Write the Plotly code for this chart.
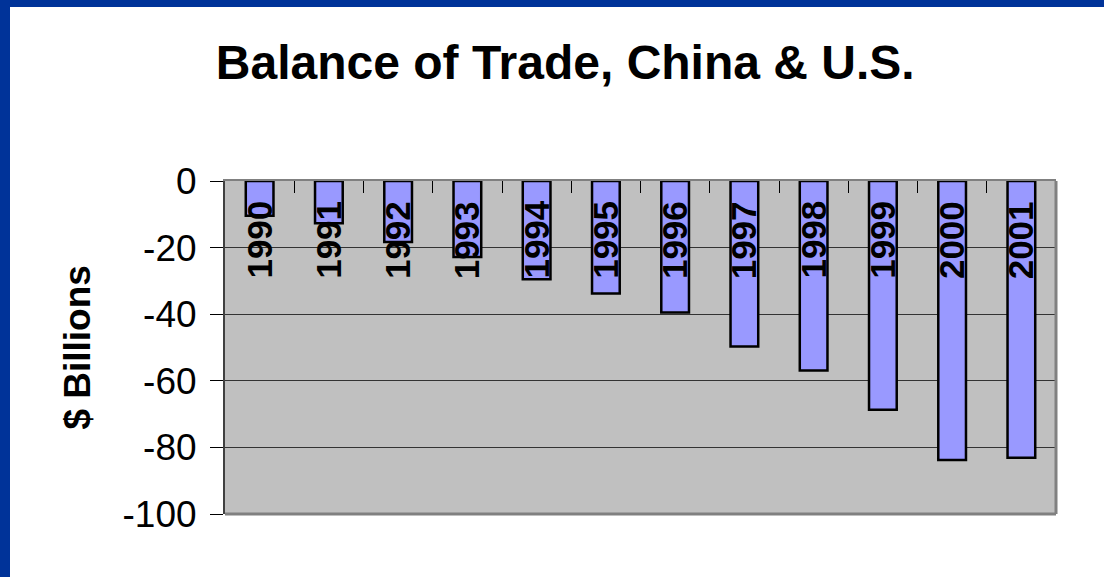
import plotly.graph_objects as go

years = ["1990", "1991", "1992", "1993", "1994", "1995",
         "1996", "1997", "1998", "1999", "2000", "2001"]
balance = [-10.4, -12.7, -18.3, -22.8, -29.5, -33.8,
           -39.5, -49.7, -56.9, -68.7, -83.8, -83.1]
y_ticks = [0, -20, -40, -60, -80, -100]
y_labels = ["0", "-20", "-40", "-60", "-80", "-100"]

BLUE = "#003399"
BAR = "#9999FF"
FONT = "Liberation Sans, Arial, sans-serif"

fig = go.Figure()
fig.add_trace(go.Bar(
    x=years, y=balance,
    marker=dict(color=BAR, line=dict(color="black", width=2.5)),
    hoverinfo="x+y",
))

# year labels sit at a fixed height inside the top of each bar
# (numeric-looking strings would be read as category indices, so pass the index)
for i, yr in enumerate(years):
    fig.add_annotation(
        x=i, y=-17.7, xref="x", yref="y", text=f"<b>{yr}</b>",
        textangle=-90, showarrow=False, xanchor="center", yanchor="middle",
        font=dict(family=FONT, size=35, color="black"),
    )

fig.add_annotation(
    x=-0.178, y=0.5, xref="paper", yref="paper", text="<b>$ Billions</b>",
    textangle=-90, showarrow=False, xanchor="center", yanchor="middle",
    font=dict(family=FONT, size=37, color="black"),
)

# blue slide frame (top and left) plus the grey shadow edge of the plot area
fig.add_shape(type="rect", xref="paper", yref="paper",
              x0=-225 / 831, x1=1104 / 831 - 225 / 831 + 0.01,
              y0=1 + 174 / 333, y1=1 + 190 / 333,
              fillcolor=BLUE, line_width=0, layer="above")
fig.add_shape(type="rect", xref="paper", yref="paper",
              x0=-225 / 831 - 0.01, x1=-215 / 831,
              y0=-70 / 333, y1=1 + 190 / 333,
              fillcolor=BLUE, line_width=0, layer="above")
fig.add_shape(type="line", xref="paper", yref="paper",
              x0=0, x1=1, y0=0, y1=0, line=dict(color="#808080", width=3))
fig.add_shape(type="line", xref="paper", yref="paper",
              x0=1, x1=1, y0=0, y1=1, line=dict(color="#808080", width=3))

fig.update_layout(
    width=1104, height=577,
    margin=dict(l=225, r=48, t=181, b=63),
    paper_bgcolor="white", plot_bgcolor="#C0C0C0",
    showlegend=False, bargap=0.6,
    font=dict(family=FONT, color="black"),
    title=dict(
        text="<b>Balance of Trade, China & U.S.</b>",
        x=0.512, xanchor="center", y=1 - 62 / 577, yanchor="middle",
        font=dict(family=FONT, size=48, color="black"),
    ),
    xaxis=dict(
        type="category", side="top", showticklabels=False, ticks="inside",
        ticklen=12, tickcolor="black", tickson="boundaries", showgrid=False,
        showline=True, linecolor="#808080", linewidth=2, zeroline=False,
        range=[-0.5, len(years) - 0.5], fixedrange=True,
    ),
    yaxis=dict(
        range=[-100, 0], tickvals=y_ticks, ticktext=y_labels,
        ticks="outside", ticklen=13,
        tickcolor="black", showgrid=True, gridcolor="#333333", gridwidth=1,
        showline=True, linecolor="#404040", linewidth=2, zeroline=False,
        tickfont=dict(family=FONT, size=37, color="black"),
        ticklabelstandoff=6, fixedrange=True,
    ),
)

fig.write_html("out.html", config={"displayModeBar": False},
               post_script="document.body.style.margin='0';")
